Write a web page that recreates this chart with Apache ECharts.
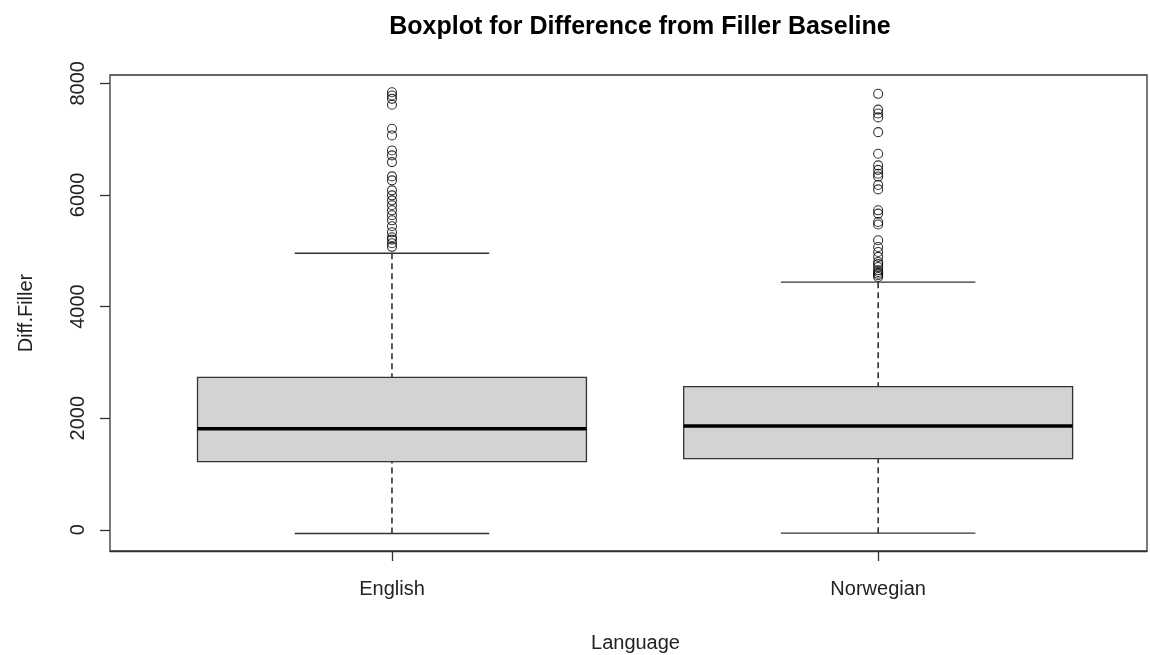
<!DOCTYPE html>
<html>
<head>
<meta charset="utf-8">
<script src="https://cdn.jsdelivr.net/npm/echarts@6/dist/echarts.min.js"></script>
<style>
html,body{margin:0;padding:0;background:#fff;}
#chart{width:1150px;height:655px;}
</style>
</head>
<body>
<div id="chart"></div>
<script>
const categories = ['English', 'Norwegian'];
const lowerWhisker = [-66, -60];
const q1 = [1222, 1276];
const median = [1812, 1861];
const q3 = [2732, 2564];
const upperWhisker = [4956, 4437];
const englishOutliers = [7841, 7782, 7723, 7616, 7186, 7067, 6798, 6709, 6589, 6333, 6262, 6083, 5993, 5904, 5815, 5725, 5636, 5546, 5439, 5331, 5242, 5200, 5135, 5070];
const norwegianOutliers = [7813, 7530, 7460, 7390, 7126, 6739, 6530, 6450, 6380, 6330, 6180, 6100, 5725, 5666, 5516, 5470, 5188, 5068, 4979, 4890, 4800, 4760, 4710, 4650, 4621, 4590, 4562, 4530];
const yTicks = [0, 2000, 4000, 6000, 8000];

const FONT = 'Liberation Sans, Arial, sans-serif';
const boxData = categories.map((c, i) => [i + 1, lowerWhisker[i], q1[i], median[i], q3[i], upperWhisker[i]]);
const outlierData = [];
englishOutliers.forEach(v => outlierData.push([1, v]));
norwegianOutliers.forEach(v => outlierData.push([2, v]));

const BOX_W = 0.8, CAP_W = 0.4;
function renderBox(params, api) {
  const x = api.value(0);
  const lo = api.value(1), a = api.value(2), m = api.value(3), b = api.value(4), hi = api.value(5);
  const pL = api.coord([x - BOX_W / 2, b]);
  const pR = api.coord([x + BOX_W / 2, a]);
  const cL = api.coord([x - CAP_W / 2, hi]);
  const cR = api.coord([x + CAP_W / 2, lo]);
  const pLo = api.coord([x, lo]);
  const pHi = api.coord([x, hi]);
  const pMed = api.coord([x, m]);
  const stroke = '#333';
  return {
    type: 'group',
    children: [
      { type: 'line', shape: { x1: pHi[0], y1: pHi[1], x2: pHi[0], y2: pL[1] }, style: { stroke: '#000', lineWidth: 1.3, lineDash: [6, 4] } },
      { type: 'line', shape: { x1: pLo[0], y1: pLo[1], x2: pLo[0], y2: pR[1] }, style: { stroke: '#000', lineWidth: 1.3, lineDash: [6, 4] } },
      { type: 'line', shape: { x1: cL[0], y1: pHi[1], x2: cR[0], y2: pHi[1] }, style: { stroke: stroke, lineWidth: 1.3 } },
      { type: 'line', shape: { x1: cL[0], y1: pLo[1], x2: cR[0], y2: pLo[1] }, style: { stroke: stroke, lineWidth: 1.3 } },
      { type: 'rect', shape: { x: pL[0], y: pL[1], width: pR[0] - pL[0], height: pR[1] - pL[1] }, style: { fill: '#d3d3d3', stroke: stroke, lineWidth: 1.3 } },
      { type: 'line', shape: { x1: pL[0], y1: pMed[1], x2: pR[0], y2: pMed[1] }, style: { stroke: '#000', lineWidth: 3.5 } }
    ]
  };
}

const chart = echarts.init(document.getElementById('chart'), null, { renderer: 'canvas' });
chart.setOption({
  backgroundColor: '#fff',
  animation: false,
  title: {
    text: 'Boxplot for Difference from Filler Baseline',
    left: 635, top: 10, textAlign: 'center',
    textStyle: { fontFamily: FONT, fontWeight: 'bold', fontSize: 25, color: '#000' }
  },
  grid: { left: 110, top: 75, right: 3, bottom: 104, show: true, borderColor: '#333', borderWidth: 1.3, backgroundColor: 'transparent', outerBoundsMode: 'none', containLabel: false },
  xAxis: {
    type: 'value', min: 0.42, max: 2.553,
    name: 'Language', nameLocation: 'middle', nameGap: 82,
    nameTextStyle: { fontFamily: FONT, fontSize: 20, color: '#222', padding: [0, 0, 0, 14] },
    axisLine: { show: true, onZero: false, lineStyle: { color: '#333', width: 1.3 } },
    splitLine: { show: false },
    axisTick: { show: true, length: 10, inside: false, lineStyle: { color: '#333', width: 1.3 }, customValues: [1, 2] },
    axisLabel: { customValues: [1, 2], formatter: v => categories[Math.round(v) - 1] || '', margin: 28, fontFamily: FONT, fontSize: 20, color: '#222' }
  },
  yAxis: {
    type: 'value', min: -380, max: 8150,
    name: 'Diff.Filler', nameLocation: 'middle', nameGap: 74, nameRotate: 90,
    nameTextStyle: { fontFamily: FONT, fontSize: 20, color: '#222' },
    axisLine: { show: false, onZero: false },
    splitLine: { show: false },
    axisTick: { show: true, length: 10, inside: false, lineStyle: { color: '#333', width: 1.3 }, customValues: yTicks },
    axisLabel: { customValues: yTicks, rotate: 90, margin: 22, formatter: v => String(v), fontFamily: FONT, fontSize: 20, color: '#222' }
  },
  series: [
    { type: 'custom', renderItem: renderBox, data: boxData, encode: { x: 0, y: [1, 2, 3, 4, 5] }, z: 2 },
    { type: 'scatter', data: outlierData, symbol: 'circle', symbolSize: 9,
      itemStyle: { color: 'rgba(0,0,0,0)', borderColor: '#000', borderWidth: 1.1 }, z: 3 }
  ]
});
</script>
</body>
</html>
